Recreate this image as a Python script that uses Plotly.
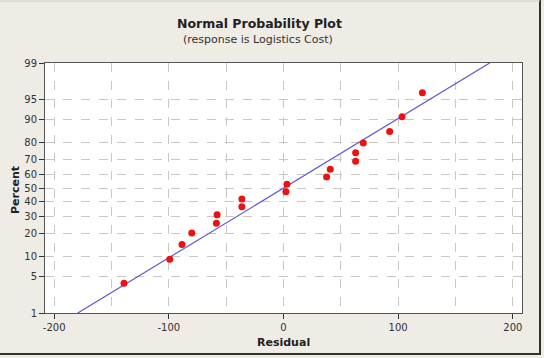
import plotly.graph_objects as go
from statistics import NormalDist

# ---- data ----
residuals = [-139.1, -99.2, -88.5, -80.0, -58.5, -57.9, -36.3, -36.3, 2.1, 3.0,
             37.6, 40.8, 62.9, 62.9, 69.6, 92.6, 103.4, 121.1]
percents = [3.80, 9.24, 14.67, 20.11, 25.54, 30.98, 36.41, 41.85, 47.28, 52.72,
            58.15, 63.59, 69.02, 74.46, 79.89, 85.33, 90.76, 96.20]
fit_mean = 0.2
fit_sd = 77.2
y_tick_percents = [1, 5, 10, 20, 30, 40, 50, 60, 70, 80, 90, 95, 99]
x_tick_values = [-200, -100, 0, 100, 200]
x_tick_labels = ["-200", "-100", "0", "100", "200"]

nd = NormalDist()
z = lambda p: nd.inv_cdf(p / 100.0)

pt_z = [z(p) for p in percents]
z_lo, z_hi = z(1), z(99)
line_z = [z_lo, z_hi]
line_x = [fit_mean + fit_sd * v for v in line_z]

fig = go.Figure()
fig.add_trace(go.Scatter(x=line_x, y=line_z, mode="lines",
                         line=dict(color="#5a5ad6", width=1.2),
                         hoverinfo="skip", showlegend=False))
fig.add_trace(go.Scatter(x=residuals, y=pt_z, mode="markers",
                         marker=dict(color="#ee1111", size=7),
                         showlegend=False))

bg = "#efebe5"
axis_font = dict(family="DejaVu Sans", size=10, color="#333333")
PW, PH, L, T = 477.0, 250.0, 45, 313  # plot width/height, left px, bottom px


def px(xp):
    return (xp - L) / PW


def py(yp):
    return (T - yp) / PH


fig.update_layout(
    width=544, height=358,
    margin=dict(l=45, r=22, t=63, b=45),
    paper_bgcolor=bg, plot_bgcolor="white",
    xaxis=dict(range=[-208, 208], tickvals=x_tick_values, ticktext=x_tick_labels,
               ticks="outside", ticklen=5, tickcolor="#333",
               showline=True, linecolor="#555", linewidth=1, mirror=True,
               showgrid=True, gridcolor="#c8c8c8", griddash="dash", gridwidth=1,
               minor=dict(dtick=50, tick0=0, showgrid=True, gridcolor="#c8c8c8",
                          griddash="dash", ticks=""),
               zeroline=False, tickfont=axis_font),
    yaxis=dict(range=[z_lo, z_hi],
               tickvals=[z(p) for p in y_tick_percents],
               ticktext=[str(p) for p in y_tick_percents],
               ticks="outside", ticklen=5, tickcolor="#333",
               showline=True, linecolor="#555", linewidth=1, mirror=True,
               showgrid=True, gridcolor="#c8c8c8", griddash="dash", gridwidth=1,
               zeroline=False, tickfont=axis_font),
    annotations=[
        dict(text="<b>Normal Probability Plot</b>", xref="paper", yref="paper",
             x=px(259), y=py(23), xanchor="center", yanchor="middle", showarrow=False,
             font=dict(family="DejaVu Sans", size=12.5, color="#222")),
        dict(text="(response is Logistics Cost)", xref="paper", yref="paper",
             x=px(258), y=py(40), xanchor="center", yanchor="middle", showarrow=False,
             font=dict(family="DejaVu Sans", size=11, color="#333")),
        dict(text="<b>Percent</b>", xref="paper", yref="paper",
             x=px(15), y=py(190), xanchor="center", yanchor="middle", showarrow=False,
             textangle=-90, font=dict(family="DejaVu Sans", size=11, color="#222")),
        dict(text="<b>Residual</b>", xref="paper", yref="paper",
             x=px(283), y=py(342), xanchor="center", yanchor="middle", showarrow=False,
             font=dict(family="DejaVu Sans", size=11, color="#222")),
    ],
    shapes=[
        dict(type="line", xref="paper", yref="paper",
             x0=px(540), x1=px(540), y0=py(354), y1=py(0),
             line=dict(color="#333", width=2)),
        dict(type="line", xref="paper", yref="paper",
             x0=px(0), x1=px(541), y0=py(354), y1=py(354),
             line=dict(color="#333", width=2)),
        dict(type="line", xref="paper", yref="paper",
             x0=px(0), x1=px(540), y0=py(1), y1=py(1),
             line=dict(color="#d0ccc6", width=1)),
    ],
)

fig.write_html("out.html")
